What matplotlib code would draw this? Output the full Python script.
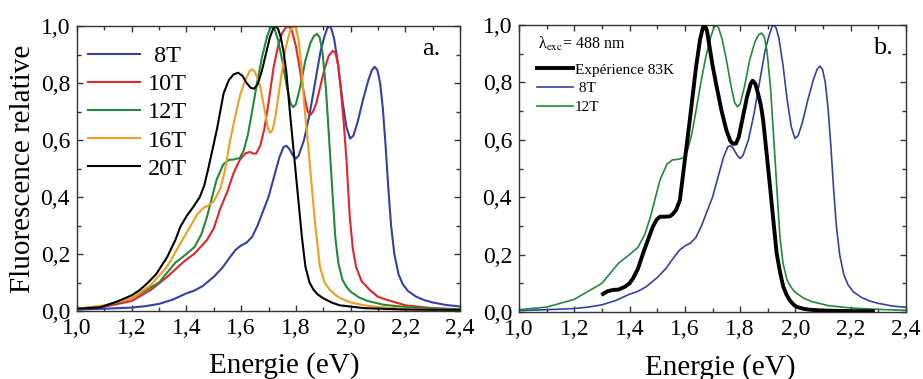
import matplotlib
matplotlib.use('Agg')
import matplotlib.pyplot as plt
from matplotlib.ticker import MultipleLocator, FuncFormatter

# ---------------- data ----------------
x8 = [1.0, 1.1, 1.2, 1.25, 1.3, 1.35, 1.4, 1.43, 1.46, 1.5, 1.53, 1.56, 1.58, 1.6, 1.62,
      1.64, 1.66, 1.68, 1.7, 1.72, 1.74, 1.755, 1.765, 1.775, 1.79, 1.80, 1.81, 1.83,
      1.85, 1.87, 1.89, 1.905, 1.915, 1.922, 1.93, 1.94, 1.955, 1.97, 1.985, 1.998,
      2.01, 2.025, 2.045, 2.065, 2.078, 2.088, 2.098, 2.108, 2.118, 2.128, 2.138, 2.148,
      2.16, 2.175, 2.19, 2.21, 2.24, 2.27, 2.3, 2.35, 2.4]
y8 = [0.005, 0.008, 0.012, 0.017, 0.025, 0.04, 0.062, 0.072, 0.088, 0.12, 0.15, 0.19,
      0.215, 0.23, 0.24, 0.26, 0.30, 0.35, 0.40, 0.47, 0.54, 0.575, 0.58, 0.57, 0.545,
      0.535, 0.545, 0.60, 0.69, 0.80, 0.91, 0.965, 0.993, 1.0, 0.99, 0.955, 0.86, 0.74,
      0.645, 0.605, 0.615, 0.66, 0.74, 0.81, 0.845, 0.857, 0.845, 0.80, 0.71, 0.58,
      0.43, 0.30, 0.20, 0.13, 0.095, 0.07, 0.05, 0.038, 0.03, 0.021, 0.016]

x10 = [1.0, 1.1, 1.2, 1.27, 1.33, 1.39, 1.43, 1.475, 1.5, 1.524, 1.55, 1.572, 1.595,
       1.615, 1.632, 1.645, 1.655, 1.67, 1.685, 1.70, 1.719, 1.735, 1.75, 1.765, 1.775,
       1.785, 1.8, 1.816, 1.83, 1.843, 1.853, 1.863, 1.875, 1.889, 1.905, 1.92, 1.935,
       1.945, 1.955, 1.965, 1.975, 1.985, 1.997, 2.008, 2.02, 2.04, 2.07, 2.1, 2.13, 2.2,
       2.3, 2.4]
y10 = [0.008, 0.015, 0.035, 0.074, 0.12, 0.173, 0.202, 0.249, 0.29, 0.36, 0.42, 0.483,
       0.53, 0.553, 0.558, 0.552, 0.553, 0.58, 0.64, 0.73, 0.857, 0.93, 0.975, 0.997,
       0.998, 0.985, 0.93, 0.84, 0.76, 0.70, 0.688, 0.70, 0.73, 0.787, 0.85, 0.895,
       0.913, 0.905, 0.86, 0.77, 0.66, 0.53, 0.33, 0.22, 0.155, 0.105, 0.074, 0.05, 0.04,
       0.02, 0.01, 0.006]

x12 = [1.0, 1.1, 1.2, 1.3, 1.36, 1.4, 1.43, 1.455, 1.475, 1.51, 1.535, 1.555, 1.575,
       1.595, 1.61, 1.625, 1.64, 1.658, 1.676, 1.694, 1.705, 1.713, 1.722, 1.735, 1.75,
       1.767, 1.78, 1.79, 1.8, 1.816, 1.835, 1.853, 1.866, 1.877, 1.887, 1.897, 1.91,
       1.927, 1.944, 1.955, 1.97, 1.985, 2.0, 2.03, 2.06, 2.12, 2.2, 2.3, 2.4]
y12 = [0.008, 0.017, 0.044, 0.10, 0.17, 0.20, 0.225, 0.27, 0.33, 0.46, 0.515, 0.53,
       0.532, 0.537, 0.565, 0.62, 0.70, 0.80, 0.89, 0.96, 0.99, 1.0, 0.99, 0.95, 0.88,
       0.787, 0.73, 0.715, 0.725, 0.787, 0.88, 0.94, 0.965, 0.972, 0.96, 0.91, 0.78,
       0.52, 0.26, 0.17, 0.11, 0.085, 0.068, 0.048, 0.036, 0.022, 0.014, 0.009, 0.006]

x16 = [1.0, 1.1, 1.2, 1.268, 1.329, 1.378, 1.41, 1.44, 1.463, 1.48, 1.5, 1.524, 1.54,
       1.56, 1.58, 1.597, 1.615, 1.63, 1.64, 1.65, 1.66, 1.67, 1.685, 1.697, 1.706,
       1.715, 1.725, 1.743, 1.762, 1.778, 1.79, 1.80, 1.81, 1.82, 1.83, 1.845, 1.857,
       1.87, 1.888, 1.905, 1.924, 1.95, 1.97, 2.0, 2.05, 2.1, 2.2, 2.3, 2.4]
y16 = [0.008, 0.02, 0.044, 0.09, 0.155, 0.237, 0.29, 0.34, 0.362, 0.37, 0.385, 0.43,
       0.49, 0.60, 0.69, 0.76, 0.81, 0.84, 0.848, 0.84, 0.815, 0.787, 0.71, 0.645, 0.625,
       0.635, 0.68, 0.80, 0.92, 0.98, 0.998, 0.995, 0.95, 0.86, 0.73, 0.58, 0.45, 0.31,
       0.155, 0.10, 0.074, 0.052, 0.042, 0.03, 0.02, 0.014, 0.008, 0.005, 0.004]

x20 = [1.0, 1.085, 1.146, 1.2, 1.23, 1.26, 1.29, 1.33, 1.36, 1.378, 1.402, 1.425, 1.449,
       1.465, 1.48, 1.495, 1.512, 1.536, 1.555, 1.572, 1.589, 1.605, 1.62, 1.635, 1.647,
       1.66, 1.675, 1.69, 1.705, 1.717, 1.725, 1.735, 1.745, 1.755, 1.765, 1.78, 1.795,
       1.81, 1.822, 1.835, 1.85, 1.865, 1.88, 1.9, 1.93, 1.96, 2.05, 2.2, 2.4]
y20 = [0.008, 0.013, 0.033, 0.055, 0.074, 0.10, 0.13, 0.19, 0.25, 0.296, 0.335, 0.365,
       0.40, 0.44, 0.50, 0.565, 0.64, 0.764, 0.81, 0.83, 0.836, 0.825, 0.80, 0.783, 0.78,
       0.795, 0.84, 0.90, 0.96, 0.99, 1.0, 0.99, 0.96, 0.91, 0.84, 0.68, 0.53, 0.38,
       0.26, 0.155, 0.10, 0.074, 0.058, 0.045, 0.03, 0.02, 0.01, 0.005, 0.004]

xexp = [1.304, 1.32, 1.34, 1.36, 1.383, 1.4, 1.413, 1.43, 1.449, 1.466, 1.484, 1.498,
        1.51, 1.528, 1.545, 1.555, 1.568, 1.582, 1.60, 1.618, 1.64, 1.655, 1.665, 1.672,
        1.68, 1.69, 1.70, 1.715, 1.733, 1.75, 1.765, 1.775, 1.785, 1.795, 1.81, 1.825,
        1.838, 1.845, 1.855, 1.865, 1.875, 1.883, 1.895, 1.908, 1.92, 1.932, 1.944, 1.956,
        1.968, 1.98, 1.992, 2.004, 2.03, 2.05, 2.1, 2.2, 2.28]
yexp = [0.063, 0.072, 0.077, 0.078, 0.088, 0.10, 0.118, 0.15, 0.205, 0.25, 0.297, 0.322,
        0.332, 0.332, 0.333, 0.34, 0.355, 0.39, 0.53, 0.67, 0.85, 0.95, 0.99, 1.0, 0.98,
        0.92, 0.86, 0.785, 0.70, 0.634, 0.595, 0.586, 0.587, 0.61, 0.68, 0.75, 0.795,
        0.806, 0.795, 0.76, 0.72, 0.67, 0.56, 0.437, 0.32, 0.205, 0.14, 0.088, 0.06, 0.04,
        0.027, 0.018, 0.011, 0.008, 0.005, 0.003, 0.003]

labels_a = [' 8T', '10T', '12T', '16T', '20T']
colors_a = ['#3341a6', '#e3242b', '#23893a', '#f39c1f', '#000000']
series_a = [(x8, y8), (x10, y10), (x12, y12), (x16, y16), (x20, y20)]
labels_b = ['Expérience 83K', ' 8T', '12T']

xticks = [1.0, 1.2, 1.4, 1.6, 1.8, 2.0, 2.2, 2.4]
yticks = [0.0, 0.2, 0.4, 0.6, 0.8, 1.0]

# ---------------- style ----------------
plt.rcParams['font.family'] = ['Liberation Serif', 'DejaVu Serif']
plt.rcParams['mathtext.fontset'] = 'stix'

fig = plt.figure(figsize=(9.23, 3.79), dpi=100)
axA = fig.add_axes([0.0834, 0.1794, 0.415, 0.752])
axB = fig.add_axes([0.5623, 0.1768, 0.4193, 0.7572])

fmt = FuncFormatter(lambda v, p: f'{v:.1f}'.replace('.', ','))

for ax in (axA, axB):
    ax.set_xlim(1.0, 2.4)
    ax.set_ylim(0.0, 1.0)
    ax.set_xticks(xticks)
    ax.set_yticks(yticks)
    ax.xaxis.set_minor_locator(MultipleLocator(0.1))
    ax.yaxis.set_minor_locator(MultipleLocator(0.1))
    ax.xaxis.set_major_formatter(fmt)
    ax.yaxis.set_major_formatter(fmt)
    ax.tick_params(which='both', direction='in', top=True, right=True,
                   color='#333333', width=1.0)
    ax.tick_params(which='major', length=4.5, labelsize=17)
    ax.tick_params(axis='x', which='major', pad=5)
    ax.tick_params(axis='y', which='major', pad=5)
    ax.tick_params(which='minor', length=3)
    for s in ax.spines.values():
        s.set_color('#333333')
        s.set_linewidth(1.0)
    ax.set_xlabel('Energie (eV)', fontsize=21, labelpad=8)

axA.xaxis.set_label_coords(0.54, -0.145, transform=axA.transAxes)
axA.xaxis.label.set_va('top')
axB.xaxis.set_label_coords(0.52, -0.145, transform=axB.transAxes)
axB.xaxis.label.set_va('top')

# ---------------- panel a ----------------
for (xs, ys), lab, c in zip(series_a, labels_a, colors_a):
    axA.plot(xs, ys, color=c, lw=1.5, label=lab)
axA.set_ylabel('Fluorescence relative', fontsize=21, labelpad=3)
axA.legend(loc='upper left', bbox_to_anchor=(0.01, 0.958), frameon=False,
           fontsize=17.5, handlelength=2.15, handletextpad=0.3,
           labelspacing=0.25, borderaxespad=0.0, borderpad=0.3)
axA.text(0.948, 0.957, 'a.', transform=axA.transAxes, ha='right', va='top',
         fontsize=19)

# ---------------- panel b ----------------
lb8, = axB.plot(x8, y8, color=colors_a[0], lw=1.2, zorder=2)
lb12, = axB.plot(x12, y12, color=colors_a[2], lw=1.2, zorder=2)
lbe, = axB.plot(xexp, yexp, color='black', lw=2.8, zorder=3)
axB.legend([lbe, lb8, lb12], labels_b, loc='upper left',
           bbox_to_anchor=(0.035, 0.884), frameon=False, fontsize=11,
           handlelength=2.35, handletextpad=0.1, labelspacing=0.33,
           borderaxespad=0.0, borderpad=0.3)
axB.text(0.049, 0.934, r'λ$_{\rm exc}$= 488 nm', transform=axB.transAxes,
         ha='left', va='center', fontsize=11.5)
axB.text(0.966, 0.957, 'b.', transform=axB.transAxes, ha='right', va='top',
         fontsize=19)

fig.savefig('out.png', dpi=100)
